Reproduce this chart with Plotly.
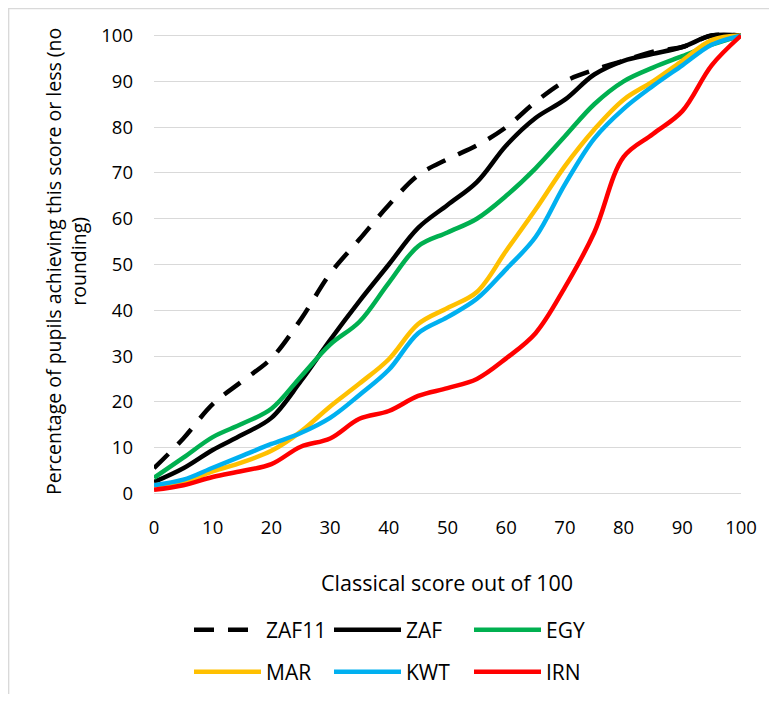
import plotly.graph_objects as go

scores = [0, 5, 10, 15, 20, 25, 30, 35, 40, 45, 50, 55, 60, 65, 70, 75, 80, 85, 90, 95, 100]

zaf11 = [5.5, 12, 19.5, 24.5, 29.5, 38, 48, 55.5, 63, 69.5, 73, 76, 80, 85.5, 90, 92.5, 94.5, 96.5, 97.5, 100, 100]
zaf = [2.5, 5.5, 9.5, 12.8, 16.5, 24.5, 33.5, 42, 50, 58, 63, 68, 76, 82, 86, 91.5, 94.5, 96, 97.5, 100, 100]
egy = [3.4, 7.8, 12.3, 15.2, 18.5, 25.5, 32.5, 37.5, 46, 54, 57, 60, 65, 71, 78, 85, 90, 93, 95.5, 98, 100]
mar = [1.8, 2.5, 4.8, 6.8, 9.3, 13.5, 19, 24, 29.3, 37, 40.5, 44, 53, 62, 71.5, 79.5, 86, 90, 94.5, 99, 100]
kwt = [1.8, 3, 5.6, 8.2, 10.8, 13.2, 16.5, 21.5, 27, 35, 38.5, 42.5, 49, 56, 67.5, 77.5, 84, 89, 93.5, 98, 100]
irn = [0.8, 1.8, 3.6, 4.9, 6.4, 10.2, 12, 16.3, 18, 21.3, 23, 25, 29.5, 35, 45, 57, 73.5, 78.5, 83.5, 93.5, 100]

series = [
    ("ZAF11", zaf11, "#000000", "20px,14px", "legend"),
    ("ZAF", zaf, "#000000", "solid", "legend"),
    ("EGY", egy, "#00B050", "solid", "legend"),
    ("MAR", mar, "#FFC000", "solid", "legend2"),
    ("KWT", kwt, "#00B0F0", "solid", "legend2"),
    ("IRN", irn, "#FF0000", "solid", "legend2"),
]

FONT = "'Open Sans', 'Liberation Sans', sans-serif"
TXT = "#000000"
TICK_SIZE = 18.5
TITLE_SIZE = 21.5
LEG_SIZE = 21

# The page body adds an 8px margin, so the figure starts at page (8, 8).
OFF = 8
W, H = 777 - 2 * OFF, 702 - 2 * OFF
PLOT_LEFT, PLOT_RIGHT = 154, 741          # page px of x = 0 and x = 100
Y_TOP, Y_BOTTOM = 31.4, 498.1             # page px of y = 101 and y = -1
L = PLOT_LEFT - OFF
R = W - (PLOT_RIGHT - OFF)
T = round(Y_TOP - OFF)
B = H - round(Y_BOTTOM - OFF)
pw = W - L - R
ph = H - T - B


def px_x(page_x):
    return (page_x - OFF - L) / pw


def px_y(page_y):
    return (H - B - (page_y - OFF)) / ph


fig = go.Figure()
for name, vals, color, dash, leg in series:
    fig.add_trace(go.Scatter(
        x=scores, y=vals, name=name, mode="lines",
        line=dict(color=color, width=4.5, dash=dash, shape="spline", smoothing=1),
        legend=leg,
    ))

legend_common = dict(
    orientation="h", xanchor="left", yanchor="middle",
    font=dict(family=FONT, size=LEG_SIZE, color=TXT),
    bgcolor="rgba(0,0,0,0)", itemwidth=67,
    entrywidth=58, entrywidthmode="pixels",
    traceorder="normal",
)

fig.update_layout(
    width=W, height=H,
    margin=dict(l=L, r=R, t=T, b=B, autoexpand=False),
    paper_bgcolor="white", plot_bgcolor="white",
    font=dict(family=FONT, size=TICK_SIZE, color=TXT),
    showlegend=True,
    legend=dict(x=px_x(189), y=px_y(630), **legend_common),
    legend2=dict(x=px_x(189), y=px_y(672), **legend_common),
    xaxis=dict(
        range=[0, 100], tickmode="array", tickvals=list(range(0, 101, 10)),
        showgrid=False, zeroline=False, showline=False, ticks="",
        tickfont=dict(family=FONT, size=TICK_SIZE, color=TXT),
        ticklabelstandoff=16,
    ),
    yaxis=dict(
        range=[-1, 101], tickmode="array", tickvals=list(range(0, 101, 10)),
        showgrid=True, gridcolor="#D9D9D9", gridwidth=1.3,
        zeroline=False, showline=False, ticks="",
        tickfont=dict(family=FONT, size=TICK_SIZE, color=TXT),
        ticklabelstandoff=20,
    ),
    annotations=[
        dict(text="Classical score out of 100", xref="paper", yref="paper",
             x=px_x(447), y=px_y(582), xanchor="center", yanchor="middle",
             showarrow=False, font=dict(family=FONT, size=TITLE_SIZE, color=TXT)),
        dict(text="Percentage of pupils achieving this score or less (no<br>rounding)",
             xref="paper", yref="paper", x=px_x(66), y=px_y(262),
             xanchor="center", yanchor="middle", textangle=-90,
             showarrow=False, font=dict(family=FONT, size=19.5, color=TXT)),
    ],
    shapes=[
        dict(type="rect", xref="paper", yref="paper",
             x0=px_x(8.6), x1=px_x(820), y0=px_y(760), y1=px_y(8.6),
             line=dict(color="#D9D9D9", width=1.5), fillcolor="rgba(0,0,0,0)",
             layer="below"),
    ],
)

fig.write_html("out.html")
